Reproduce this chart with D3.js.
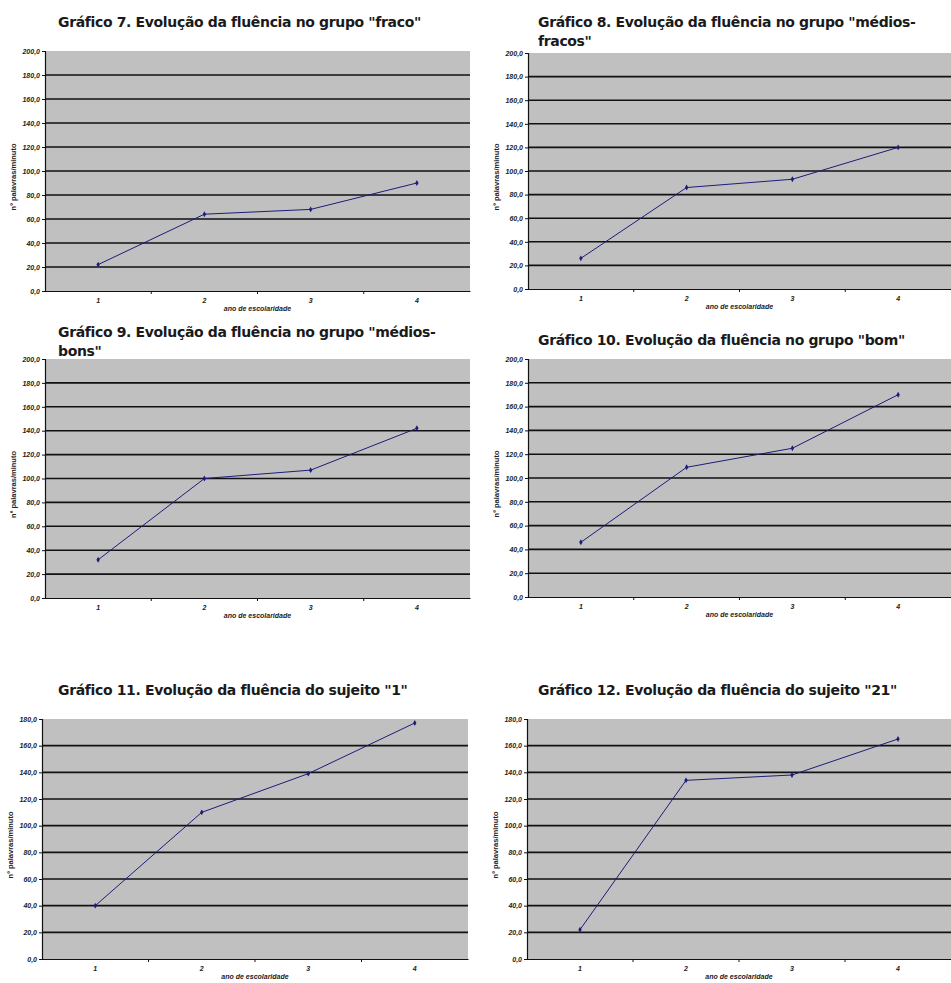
<!DOCTYPE html>
<html>
<head>
<meta charset="utf-8">
<script src="https://cdn.jsdelivr.net/npm/d3@7"></script>
<style>
  html, body { margin: 0; padding: 0; background: #ffffff; }
  svg { display: block; }
</style>
</head>
<body>
<svg id="chart" width="951" height="983"></svg>
<script>
// School years on the category axis
const years = ["1", "2", "3", "4"];

// Words per minute, by group / subject
const grupoFraco = [22, 64, 68, 90];
const grupoMediosFracos = [26, 86, 93, 120];
const grupoMediosBons = [32, 100, 107, 142];
const grupoBom = [46, 109, 125, 170];
const sujeito1 = [40, 110, 139, 177];
const sujeito21 = [22, 134, 138, 165];

// Value-axis tick labels
const ticks200 = ["0,0", "20,0", "40,0", "60,0", "80,0", "100,0", "120,0", "140,0", "160,0", "180,0", "200,0"];
const ticks180 = ["0,0", "20,0", "40,0", "60,0", "80,0", "100,0", "120,0", "140,0", "160,0", "180,0"];

// Chart titles (wrapped lines)
const titles = [
  ["Gráfico 7. Evolução da fluência no grupo \"fraco\""],
  ["Gráfico 8. Evolução da fluência no grupo \"médios-", "fracos\""],
  ["Gráfico 9. Evolução da fluência no grupo \"médios-", "bons\""],
  ["Gráfico 10. Evolução da fluência no grupo \"bom\""],
  ["Gráfico 11. Evolução da fluência do sujeito \"1\""],
  ["Gráfico 12. Evolução da fluência do sujeito \"21\""]
];

const yAxisTitle = "nº palavras/minuto";
const xAxisTitle = "ano de escolaridade";

const seriesList = [grupoFraco, grupoMediosFracos, grupoMediosBons, grupoBom, sujeito1, sujeito21];
const tickList = [ticks200, ticks200, ticks200, ticks200, ticks180, ticks180];

// Panel geometry: plot box and title anchor
const layout = [
  { x0: 45,  x1: 470, y0: 51,  y1: 291, tx: 58,  ty: 27 },
  { x0: 528, x1: 951, y0: 53,  y1: 289, tx: 538, ty: 27 },
  { x0: 45,  x1: 470, y0: 359, y1: 598, tx: 58,  ty: 337 },
  { x0: 528, x1: 951, y0: 359, y1: 597, tx: 538, ty: 345 },
  { x0: 42,  x1: 468, y0: 719, y1: 959, tx: 58,  ty: 695 },
  { x0: 527, x1: 951, y0: 719, y1: 959, tx: 538, ty: 695 }
];

const svg = d3.select("#chart");
const smallFont = "'Liberation Sans', Arial, sans-serif";

seriesList.forEach((values, i) => {
  const L = layout[i];
  const tickLabels = tickList[i];
  const tickValues = tickLabels.map(t => +t.replace(",", "."));
  const yMax = d3.max(tickValues);

  const x = d3.scaleBand().domain(years).range([L.x0, L.x1]).padding(0);
  const y = d3.scaleLinear().domain([0, yMax]).range([L.y1, L.y0]);

  const g = svg.append("g");

  // Title
  const title = g.append("text")
    .attr("x", L.tx)
    .attr("y", L.ty)
    .attr("font-family", "'DejaVu Sans', sans-serif")
    .attr("font-weight", "bold")
    .attr("font-size", 14)
    .attr("letter-spacing", -0.35)
    .attr("fill", "#1a1a1a");
  titles[i].forEach((line, k) => {
    title.append("tspan").attr("x", L.tx).attr("dy", k === 0 ? 0 : 19).text(line);
  });

  // Plot area
  g.append("rect")
    .attr("x", L.x0).attr("y", L.y0)
    .attr("width", L.x1 - L.x0).attr("height", L.y1 - L.y0)
    .attr("fill", "#c0c0c0");

  // Horizontal gridlines
  g.append("g")
    .selectAll("line")
    .data(tickValues.filter(v => v > 0 && v < yMax))
    .join("line")
    .attr("x1", L.x0).attr("x2", L.x1)
    .attr("y1", d => y(d)).attr("y2", d => y(d))
    .attr("stroke", "#111")
    .attr("stroke-width", 1.6);

  // Value axis
  const yAxis = d3.axisLeft(y)
    .tickValues(tickValues)
    .tickSize(3)
    .tickFormat((d, k) => tickLabels[k]);
  const ya = g.append("g").attr("transform", `translate(${L.x0},0)`).call(yAxis);
  ya.select(".domain").attr("stroke", "#111").attr("stroke-width", 1.2);
  ya.selectAll(".tick line").attr("stroke", "#111");
  ya.selectAll(".tick text")
    .attr("font-family", smallFont)
    .attr("font-size", 7)
    .attr("font-weight", "bold")
    .attr("font-style", "italic")
    .attr("fill", "#222")
    .attr("x", -5);

  // Category axis, ticks between categories
  const xAxis = d3.axisBottom(x).tickSize(0).tickPadding(7);
  const xa = g.append("g").attr("transform", `translate(0,${L.y1})`).call(xAxis);
  xa.select(".domain").attr("stroke", "#111").attr("stroke-width", 1.2);
  xa.selectAll(".tick text")
    .attr("font-family", smallFont)
    .attr("font-size", 7)
    .attr("font-weight", "bold")
    .attr("font-style", "italic")
    .attr("fill", "#222");
  g.append("g")
    .selectAll("line")
    .data(years.slice(1))
    .join("line")
    .attr("x1", d => x(d)).attr("x2", d => x(d))
    .attr("y1", L.y1).attr("y2", L.y1 + 3)
    .attr("stroke", "#111");

  // Axis titles
  g.append("text")
    .attr("transform", `translate(${L.x0 - 29},${(L.y0 + L.y1) / 2 + 6}) rotate(-90)`)
    .attr("text-anchor", "middle")
    .attr("font-family", smallFont)
    .attr("font-size", 7.5)
    .attr("font-weight", "bold")
    .attr("fill", "#222")
    .text(yAxisTitle);
  g.append("text")
    .attr("x", (L.x0 + L.x1) / 2)
    .attr("y", L.y1 + 20)
    .attr("text-anchor", "middle")
    .attr("font-family", smallFont)
    .attr("font-size", 7)
    .attr("font-weight", "bold")
    .attr("font-style", "italic")
    .attr("fill", "#222")
    .text(xAxisTitle);

  // Series line with diamond markers
  const line = d3.line()
    .x((d, k) => x(years[k]) + x.bandwidth() / 2)
    .y(d => y(d));
  g.append("path")
    .datum(values)
    .attr("d", line)
    .attr("fill", "none")
    .attr("stroke", "#1c1c7a")
    .attr("stroke-width", 1);
  g.append("g")
    .selectAll("path")
    .data(values)
    .join("path")
    .attr("d", d3.symbol(d3.symbolDiamond, 10))
    .attr("transform", (d, k) => `translate(${x(years[k]) + x.bandwidth() / 2},${y(d)})`)
    .attr("fill", "#1c1c7a");
});
</script>
</body>
</html>
